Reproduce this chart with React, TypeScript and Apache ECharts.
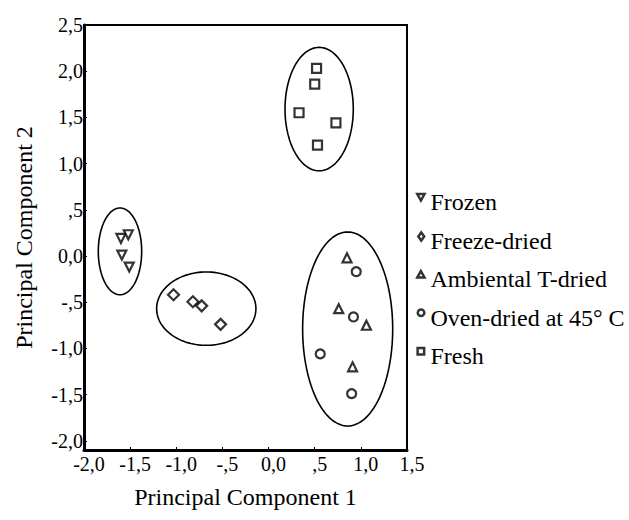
import React, { useEffect, useRef } from "react";
import * as echarts from "echarts";

const seriesNames = ["Frozen", "Freeze-dried", "Ambiental T-dried", "Oven-dried at 45° C", "Fresh"];

const frozen = [
  [-1.6, 0.19],
  [-1.52, 0.23],
  [-1.59, 0.01],
  [-1.51, -0.12],
];
const freezeDried = [
  [-1.03, -0.42],
  [-0.82, -0.495],
  [-0.725, -0.54],
  [-0.52, -0.74],
];
const ambiental = [
  [0.85, -0.02],
  [0.76, -0.57],
  [1.06, -0.75],
  [0.91, -1.2],
];
const ovenDried = [
  [0.95, -0.17],
  [0.92, -0.66],
  [0.56, -1.06],
  [0.9, -1.49],
];
const fresh = [
  [0.52, 2.03],
  [0.5, 1.86],
  [0.33, 1.55],
  [0.73, 1.44],
  [0.53, 1.2],
];

// cluster ellipses: [centerX, centerY, radiusX, radiusY]
const ellipses = [
  [-1.61, 0.05, 0.235, 0.47],
  [-0.675, -0.57, 0.538, 0.397],
  [0.548, 1.59, 0.37, 0.668],
  [0.857, -0.79, 0.488, 1.05],
];

const xTickValues = [-2, -1.5, -1, -0.5, 0, 0.5, 1, 1.5];
const xTickLabels = ["-2,0", "-1,5", "-1,0", "-,5", "0,0", ",5", "1,0", "1,5"];
const yTickValues = [-2, -1.5, -1, -0.5, 0, 0.5, 1, 1.5, 2, 2.5];
const yTickLabels = ["-2,0", "-1,5", "-1,0", "-,5", "0,0", ",5", "1,0", "1,5", "2,0", "2,5"];

// legend icons (drawn in the upper part of the legend item, like a superscript)
const legendIcons = [
  "path://M0,0L10,0L5,9Z M0,22L0.001,22",
  "path://M5,0L9,5.5L5,11L1,5.5Z M0,22L0.001,22",
  "path://M5,0L10,9L0,9Z M0,22L0.001,22",
  "path://M5,0A4.5,4.5,0,1,1,4.999,0Z M0,22L0.001,22",
  "path://M0,0L9,0L9,9L0,9Z M0,22L0.001,22",
];

const FONT = "Liberation Serif";

function labelFor(values: number[], labels: string[]) {
  return (v: number) => {
    const i = values.findIndex((t) => Math.abs(t - v) < 1e-6);
    return i >= 0 ? labels[i] : "";
  };
}

export default function App() {
  const ref = useRef<HTMLDivElement>(null);
  useEffect(() => {
    if (!ref.current) return;
    const chart = echarts.init(ref.current, null, { renderer: "svg" });
    const markerStyle = { color: "#fff", borderColor: "#000", borderWidth: 2.2 };
    const mk = (name: string, data: number[][], symbol: string, size: number, rotate = 0) => ({
      name,
      type: "scatter",
      data,
      symbol,
      symbolSize: size,
      symbolRotate: rotate,
      itemStyle: markerStyle,
      z: 5,
    });
    chart.setOption({
      animation: false,
      backgroundColor: "#fff",
      textStyle: { fontFamily: FONT, color: "#000" },
      grid: {
        left: 84,
        top: 25,
        right: 222,
        bottom: 70,
        show: true,
        borderColor: "#000",
        borderWidth: 2,
        backgroundColor: "transparent",
      },
      xAxis: {
        type: "value",
        min: -2,
        max: 1.5,
        name: "Principal Component 1",
        nameLocation: "middle",
        nameGap: 35,
        nameTextStyle: { fontFamily: FONT, fontSize: 24, color: "#000" },
        splitLine: { show: false },
        axisLine: { show: true, onZero: false, lineStyle: { color: "#000", width: 3 } },
        axisTick: { show: true, inside: true, length: 3, customValues: xTickValues, lineStyle: { color: "#000", width: 1 } },
        axisLabel: {
          customValues: xTickValues,
          formatter: labelFor(xTickValues, xTickLabels),
          fontFamily: FONT,
          fontSize: 20,
          color: "#000",
          margin: 4,
          padding: [0, 0, 0, 10],
        },
      },
      yAxis: {
        type: "value",
        min: -2.1,
        max: 2.5,
        name: "Principal Component 2",
        nameLocation: "middle",
        nameRotate: 90,
        nameGap: 48,
        nameTextStyle: { fontFamily: FONT, fontSize: 24, color: "#000" },
        splitLine: { show: false },
        axisLine: { show: true, onZero: false, lineStyle: { color: "#000", width: 3 } },
        axisTick: { show: true, inside: true, length: 3, customValues: yTickValues, lineStyle: { color: "#000", width: 1 } },
        axisLabel: {
          customValues: yTickValues,
          formatter: labelFor(yTickValues, yTickLabels),
          fontFamily: FONT,
          fontSize: 20,
          color: "#000",
          margin: 1,
          padding: [0, 0, 5, 0],
        },
      },
      legend: {
        data: seriesNames.map((name, i) => ({ name, icon: legendIcons[i] })),
        orient: "vertical",
        left: 411,
        top: 185,
        padding: 5,
        itemWidth: 9,
        itemHeight: 16,
        itemGap: 14.5,
        itemStyle: { color: "#fff", borderColor: "#000", borderWidth: 2.5 },
        textStyle: { fontFamily: FONT, fontSize: 24, lineHeight: 24, color: "#000" },
      },
      series: [
        {
          type: "custom",
          name: "clusters",
          data: ellipses,
          dimensions: ["cx", "cy", "rx", "ry"],
          encode: { x: 0, y: 1 },
          clip: false,
          silent: true,
          z: 2,
          renderItem: (params: any, api: any) => {
            const cx = api.value(0);
            const cy = api.value(1);
            const rx = api.value(2);
            const ry = api.value(3);
            const pts: number[][] = [];
            const n = 120;
            for (let i = 0; i < n; i++) {
              const t = (i / n) * Math.PI * 2;
              pts.push(api.coord([cx + rx * Math.cos(t), cy + ry * Math.sin(t)]));
            }
            return {
              type: "polygon",
              shape: { points: pts },
              style: { fill: "none", stroke: "#000", lineWidth: 1.6 },
            };
          },
        },
        mk(seriesNames[0], frozen, "triangle", 9, 180),
        mk(seriesNames[1], freezeDried, "diamond", 11),
        mk(seriesNames[2], ambiental, "triangle", 9),
        mk(seriesNames[3], ovenDried, "circle", 9),
        mk(seriesNames[4], fresh, "rect", 9),
      ],
    });
    return () => chart.dispose();
  }, []);
  return (
    <div
      ref={ref}
      style={{ position: "fixed", left: 0, top: 0, width: 629, height: 520, background: "#fff" }}
    />
  );
}
